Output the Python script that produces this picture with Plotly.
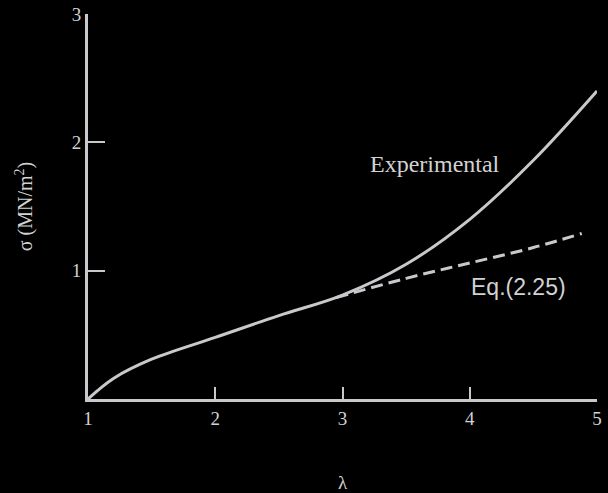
import plotly.graph_objects as go

# Stress-strain data for rubber in simple extension
lam_exp = [1.0, 1.2, 1.5, 2.0, 2.5, 3.0, 3.5, 4.0, 4.5, 5.0]
sigma_exp = [0.0, 0.16, 0.31, 0.48, 0.65, 0.81, 1.05, 1.40, 1.86, 2.40]

lam_eq = [2.95, 3.5, 4.0, 4.5, 4.88]
sigma_eq = [0.79, 0.94, 1.06, 1.18, 1.29]

x_ticks = [1, 2, 3, 4, 5]
y_ticks = [1, 2, 3]

line_col = "#c9c8cc"
text_col = "#d2d2d2"
serif = "Liberation Serif, DejaVu Serif, serif"
sans = "Liberation Sans, Arial, sans-serif"

fig = go.Figure()
fig.add_trace(go.Scatter(x=lam_exp, y=sigma_exp, mode="lines",
                         line=dict(color=line_col, width=3, shape="spline", smoothing=1.0),
                         showlegend=False))
fig.add_trace(go.Scatter(x=lam_eq, y=sigma_eq, mode="lines",
                         line=dict(color=line_col, width=3, dash="12px,6px", shape="spline"),
                         showlegend=False))

fig.add_annotation(x=3.73, y=1.83, text="Experimental", showarrow=False,
                   font=dict(family=serif, size=24, color=text_col))
fig.add_annotation(x=4.38, y=0.875, text="Eq.(2.25)", showarrow=False,
                   font=dict(family=sans, size=23, color=text_col))

fig.update_layout(
    width=608, height=493,
    margin=dict(l=88, r=11, t=14, b=94),
    paper_bgcolor="black", plot_bgcolor="black",
    font=dict(family=serif, color=text_col, size=19),
    xaxis=dict(range=[1, 5], tickvals=x_ticks, ticktext=[str(v) for v in x_ticks],
               ticks="inside", ticklen=12, tickwidth=2, tickcolor=line_col,
               showline=True, linecolor=line_col, linewidth=3,
               showgrid=False, zeroline=False, automargin=False,
               title=dict(text="λ", standoff=62, font=dict(size=19))),
    yaxis=dict(range=[0, 3], tickvals=y_ticks, ticktext=[str(v) for v in y_ticks],
               ticks="inside", ticklen=17, tickwidth=2, tickcolor=line_col,
               showline=True, linecolor=line_col, linewidth=3,
               showgrid=False, zeroline=False, automargin=False,
               title=dict(text="σ (MN/m<sup>2</sup>)", standoff=34, font=dict(size=20))),
)

fig.write_html("out.html")
